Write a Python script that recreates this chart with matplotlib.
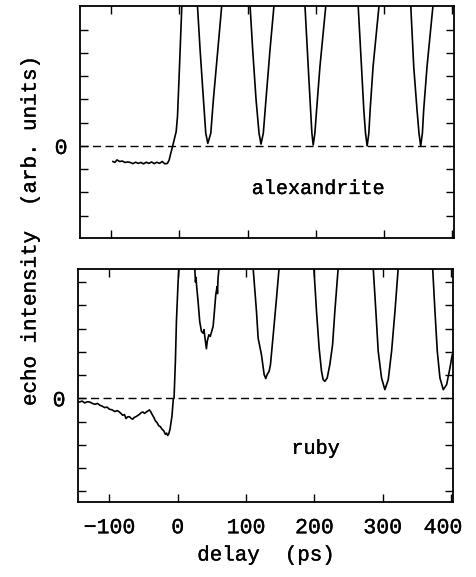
import matplotlib
matplotlib.use("Agg")
import matplotlib.pyplot as plt
import matplotlib.transforms as mtransforms
import matplotlib.patheffects as pe

plt.rcParams['font.family'] = ['Liberation Mono', 'DejaVu Sans Mono']
THICK = [pe.withStroke(linewidth=0.25, foreground='black')]

# ---------------- data ----------------
# alexandrite trace (delay in ps, echo intensity in tick units, values > 6 are off-scale)
alex_x = [-97.7, -94.8, -91.7, -87.8, -83.9, -80.0, -76.0, -72.2, -68.3, -64.4,
          -60.5, -56.6, -52.7, -48.8, -44.9, -41.0, -37.1, -33.2, -29.3, -25.4,
          -21.5, -17.6, -15.1, -12.7, -10.2, -4.8, -2.9, -0.9, 1.0, 3.5,
          15.0,
          26.4, 30.3, 35.2, 38.6, 41.6, 46.0, 49.8, 56.3, 62.1,
          83.0,
          103.6, 107.5, 112.4, 116.8, 119.7, 123.1, 127.0, 132.9, 138.8,
          162.0,
          184.2, 189.0, 192.5, 194.4, 196.3, 198.8, 201.3, 206.2, 214.9,
          240.0,
          262.3, 267.2, 270.6, 273.1, 275.5, 278.0, 279.9, 284.2, 293.0,
          316.0,
          339.5, 343.9, 348.7, 351.6, 354.1, 356.6, 358.5, 363.4, 372.2,
          400.0]
alex_y = [-0.67, -0.71, -0.60, -0.67, -0.65, -0.71, -0.69, -0.71, -0.76, -0.70,
          -0.75, -0.71, -0.77, -0.70, -0.75, -0.69, -0.76, -0.70, -0.75, -0.67,
          -0.77, -0.75, -0.60, -0.31, -0.03, 0.62, 1.26, 2.70, 4.13, 6.05,
          9.0,
          6.05, 4.13, 2.00, 0.55, 0.11, 0.55, 2.00, 4.13, 6.05,
          9.0,
          6.05, 4.13, 2.00, 0.55, 0.08, 0.55, 2.00, 4.13, 6.05,
          9.0,
          6.05, 3.41, 1.55, 0.55, 0.04, 0.55, 1.55, 3.41, 6.05,
          9.0,
          6.05, 3.41, 1.55, 0.55, 0.00, 0.55, 1.55, 3.41, 6.05,
          9.0,
          6.05, 3.41, 1.55, 0.55, 0.00, 0.55, 1.55, 3.41, 6.05,
          9.0]

# ruby trace
ruby_x = [-146.0, -143.6, -140.0, -136.0, -132.5, -129.0, -125.0, -121.0, -117.5, -114.0,
          -110.5, -107.0, -103.5, -100.0, -96.0, -92.0, -88.5, -85.0, -82.8, -80.6,
          -78.0, -75.7, -73.2, -70.8, -68.4, -66.0, -63.5, -61.0, -58.5, -56.0,
          -53.5, -51.0, -48.7, -46.4, -44.0, -41.5, -39.5, -37.6, -35.0, -32.7,
          -30.2, -27.8, -25.4, -23.0, -20.5, -18.0, -16.3, -14.7, -13.0, -11.3,
          -8.4, -6.5, -5.4, -3.4, -1.9, 0.5, 1.9,
          13.0,
          24.9, 26.0, 26.8, 27.5, 29.8, 32.2, 34.7, 37.1, 38.5, 39.6,
          42.0, 43.2, 45.6, 47.6, 49.8, 51.8, 53.3, 55.7, 57.6, 58.2,
          59.0, 60.5,
          85.0,
          110.4, 115.3, 117.7, 122.6, 126.5, 128.9, 130.9, 133.8, 135.8, 140.7,
          144.6, 148.4,
          175.0,
          199.3, 203.2, 207.0, 210.5, 212.9, 215.4, 218.8, 222.7, 226.7, 230.0,
          234.9,
          260.0,
          286.2, 290.1, 293.5, 298.4, 303.3, 308.2, 313.1, 318.0, 322.8,
          348.0,
          373.2, 376.6, 380.0, 383.9, 388.8, 393.7, 398.5, 401.9]
ruby_y = [-0.14, -0.16, -0.12, -0.20, -0.15, -0.16, -0.22, -0.26, -0.22, -0.30,
          -0.34, -0.40, -0.38, -0.47, -0.50, -0.57, -0.53, -0.60, -0.66, -0.73,
          -0.70, -0.87, -0.80, -0.79, -0.86, -0.90, -0.82, -0.79, -0.74, -0.69,
          -0.62, -0.59, -0.65, -0.60, -0.55, -0.50, -0.58, -0.69, -0.82, -0.97,
          -1.05, -1.18, -1.22, -1.33, -1.40, -1.55, -1.50, -1.60, -1.52, -1.33,
          -0.76, -0.04, 0.00, 1.60, 3.30, 5.00, 5.60,
          9.0,
          5.60, 5.00, 5.20, 4.88, 4.16, 3.30, 2.88, 2.80, 2.95, 2.66,
          2.13, 2.45, 2.73, 2.66, 2.88, 3.09, 3.59, 4.45, 4.80, 4.50,
          5.16, 5.60,
          9.0,
          5.60, 3.73, 2.59, 1.87, 1.02, 0.85, 1.02, 1.16, 1.45, 3.02,
          4.30, 5.60,
          9.0,
          5.60, 3.73, 2.16, 1.16, 0.80, 0.73, 0.87, 1.45, 2.30, 3.73,
          5.60,
          9.0,
          5.60, 3.73, 2.02, 0.87, 0.37, 0.80, 2.02, 3.73, 5.60,
          9.0,
          5.60, 3.73, 2.02, 0.87, 0.37, 0.59, 1.30, 1.87]

x_ticks = [-100, 0, 100, 200, 300, 400]
x_tick_labels = ['\u2212100', '0', '100', '200', '300', '400']
panel_names = ['alexandrite', 'ruby']

# ---------------- figure ----------------
W, H = 476, 577
fig = plt.figure(figsize=(W / 100, H / 100), dpi=100)

def frac(l, t, r, b):
    return [l / W, 1 - b / H, (r - l) / W, (b - t) / H]

ax1 = fig.add_axes(frac(80, 6, 454, 238))
ax2 = fig.add_axes(frac(78, 268.5, 453, 502))

panels = [
    (ax1, alex_x, alex_y, (-3.96, 6.02), range(-3, 6), (204, -1.83)),
    (ax2, ruby_x, ruby_y, (-4.46, 5.58), range(-4, 6), (202, -2.15)),
]

for i, (ax, xs, ys, ylim, yt, lab) in enumerate(panels):
    ax.plot(xs, ys, color='black', lw=1.2, solid_joinstyle='round')
    ax.axhline(0, color='black', lw=1.0, ls=(0, (5.8, 3.2)))
    ax.set_xlim(-146, 403)
    ax.set_ylim(*ylim)
    ax.set_xticks(x_ticks)
    yt = list(yt)
    ax.set_yticks(yt)
    ax.set_yticklabels(['0' if v == 0 else '' for v in yt])
    ax.tick_params(direction='in', length=6, width=1.0, top=True, right=True,
                   labelsize=15.5, pad=8)
    ax.tick_params(axis='y', pad=9)
    for s in ax.spines.values():
        s.set_linewidth(1.3)
    ax.text(lab[0], lab[1], panel_names[i], fontsize=14.5, ha='center',
            va='center', path_effects=THICK)

ax1.tick_params(labelbottom=False)
ax2.set_xticklabels(x_tick_labels)
ax2.tick_params(axis='x', pad=11)
for ax in (ax1, ax2):
    for t in ax.get_xticklabels() + ax.get_yticklabels():
        t.set_path_effects(THICK)
# nudge last label slightly left as in the original
lbls = ax2.get_xticklabels()
off = mtransforms.ScaledTranslation(-8 / 100, 0, fig.dpi_scale_trans)
lbls[-1].set_transform(lbls[-1].get_transform() + off)

fig.text(266 / W, 1 - 555 / H, 'delay  (ps)', fontsize=15, ha='center',
         va='center', path_effects=THICK)
fig.text(30 / W, 1 - 231 / H, 'echo intensity  (arb. units)', fontsize=15,
         ha='center', va='center', rotation=90, path_effects=THICK)

fig.savefig('out.png', dpi=100)
